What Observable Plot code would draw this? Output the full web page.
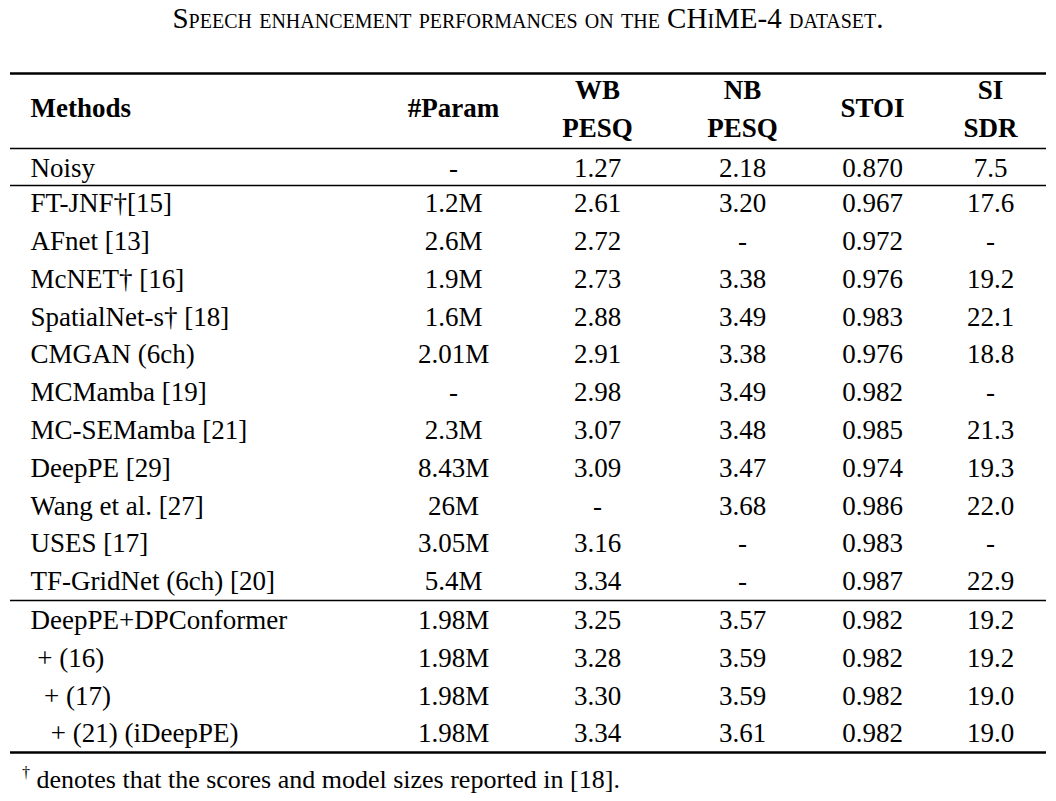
<!DOCTYPE html>
<html><head><meta charset="utf-8">
<script src="https://cdn.jsdelivr.net/npm/d3@7"></script>
<script src="https://cdn.jsdelivr.net/npm/@observablehq/plot@0.6"></script>
<style>
body{margin:0;background:#fff;font-family:"Liberation Serif",serif;color:#000;}
#title{position:absolute;top:2px;left:0;width:1056px;text-align:center;font-size:29px;font-variant:small-caps;}
#chart{position:absolute;top:50px;left:0;}
#note{position:absolute;top:764px;left:22px;font-size:26px;}
#note sup{font-size:16px;}
</style></head><body>
<div id="title">Speech enhancement performances on the CHiME-4 dataset.</div>
<div id="chart"></div>
<div id="note"><sup>†</sup> denotes that the scores and model sizes reported in [18].</div>
<script>
const methods = ["Noisy","FT-JNF†[15]","AFnet [13]","McNET† [16]","SpatialNet-s† [18]","CMGAN (6ch)","MCMamba [19]","MC-SEMamba [21]","DeepPE [29]","Wang et al. [27]","USES [17]","TF-GridNet (6ch) [20]","DeepPE+DPConformer"," + (16)","  + (17)","   + (21) (iDeepPE)"];
const params = ["-","1.2M","2.6M","1.9M","1.6M","2.01M","-","2.3M","8.43M","26M","3.05M","5.4M","1.98M","1.98M","1.98M","1.98M"];
const wbPesq = ["1.27","2.61","2.72","2.73","2.88","2.91","2.98","3.07","3.09","-","3.16","3.34","3.25","3.28","3.30","3.34"];
const nbPesq = ["2.18","3.20","-","3.38","3.49","3.38","3.49","3.48","3.47","3.68","-","-","3.57","3.59","3.59","3.61"];
const stoi = ["0.870","0.967","0.972","0.976","0.983","0.976","0.982","0.985","0.974","0.986","0.983","0.987","0.982","0.982","0.982","0.982"];
const siSdr = ["7.5","17.6","-","19.2","22.1","18.8","-","21.3","19.3","22.0","-","22.9","19.2","19.2","19.0","19.0"];
const columns = ["#Param","WB PESQ","NB PESQ","STOI","SI SDR"];
const colX = [453, 597, 742, 872, 990];

// row centre (px in svg): group gaps after header, Noisy, baselines
const rowY = methods.map((m, i) => i === 0 ? 118 : i <= 11 ? 153 + (i - 1) * 37.8 : 570 + (i - 12) * 37.7);
const rows = methods.map((m, i) => ({m, y: rowY[i], vals: [params[i], wbPesq[i], nbPesq[i], stoi[i], siSdr[i]]}));
const cells = rows.flatMap(r => r.vals.map((v, j) => ({v, x: colX[j], y: r.y})));
const head = columns.flatMap((c, j) => {
  const p = c.split(" ");
  return p.length === 1 ? [{t: c, x: colX[j], y: 58}]
    : [{t: p[0], x: colX[j], y: 40}, {t: p[1], x: colX[j], y: 78}];
});
const rules = [{y: 23, w: 2.4}, {y: 98, w: 1.3}, {y: 135, w: 1.3}, {y: 550, w: 1.3}, {y: 702, w: 2.4}];

const chart = Plot.plot({
  width: 1056, height: 710,
  margin: 0,
  x: {domain: [0, 1056], range: [0, 1056], axis: null},
  y: {domain: [0, 710], range: [0, 710], axis: null},
  style: {fontFamily: "Liberation Serif", background: "white"},
  marks: [
    Plot.ruleY(rules, {y: "y", x1: 10, x2: 1046, strokeWidth: "w", stroke: "black"}),
    Plot.text(["Methods"], {x: 30, y: 58, text: d => d, textAnchor: "start", fontSize: 27, fontWeight: "bold", fill: "black"}),
    Plot.text(head, {x: "x", y: "y", text: "t", fontSize: 27, fontWeight: "bold", fill: "black"}),
    Plot.text(rows, {x: 30, y: "y", text: "m", textAnchor: "start", fontSize: 27, fill: "black"}),
    Plot.text(cells, {x: "x", y: "y", text: "v", fontSize: 27, fill: "black"})
  ]
});
chart.querySelectorAll("text").forEach(t => t.setAttribute("xml:space", "preserve"));
document.getElementById("chart").append(chart);
</script></body></html>
